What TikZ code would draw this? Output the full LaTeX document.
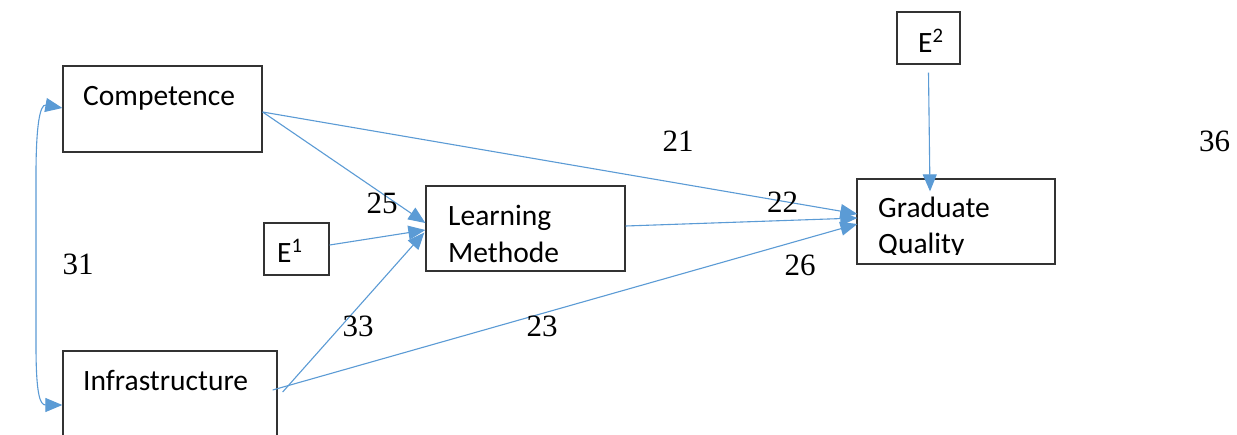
\documentclass[tikz,border=0pt]{standalone}
\usepackage{fontspec}
\setmainfont{Liberation Serif}
\newfontfamily\calfont{Carlito}
\usetikzlibrary{arrows.meta,calc}
\definecolor{lineblue}{HTML}{5B9BD5}
\definecolor{boxgray}{HTML}{333333}
\begin{document}
\begin{tikzpicture}[x=1pt,y=-1pt,
  box/.style={draw=boxgray,line width=1.3pt,rectangle,inner sep=0pt},
  boxtext/.style={anchor=base west,inner sep=0pt,font=\calfont\fontsize{29.5}{34}\selectfont},
  num/.style={inner sep=0pt,font=\fontsize{31}{36}\selectfont},
  conn/.style={draw=lineblue,line width=1.1pt,-{Triangle[length=17pt,width=14pt]}},
  biconn/.style={draw=lineblue,line width=1.1pt,{Triangle[length=17pt,width=14pt]}-{Triangle[length=17pt,width=14pt]}}]
\clip (0,0) rectangle (1237,434);
\fill[white] (0,0) rectangle (1237,434);
% boxes
\node[box,minimum width=199pt,minimum height=86pt] (comp) at (162.5,109) {};
\node[box,minimum width=214pt,minimum height=118pt] (infra) at (170,410) {};
\node[box,minimum width=65pt,minimum height=52pt] (e1) at (296.5,249) {};
\node[box,minimum width=199pt,minimum height=85pt] (lm) at (525.5,228.5) {};
\node[box,minimum width=63pt,minimum height=52pt] (e2) at (928.5,38) {};
\node[box,minimum width=198pt,minimum height=85pt] (gq) at (956,221.5) {};
% box texts
\node[boxtext] (tcomp) at (83,105) {Competence};
\node[boxtext] (tinfra) at (83,390) {Infrastructure};
\node[boxtext] (te1) at (277,262) {E\textsuperscript{1}};
\node[boxtext] (tlm1) at (448,225) {Learning};
\node[boxtext] (tlm2) at (448,262) {Methode};
\node[boxtext] (te2) at (918,52) {E\textsuperscript{2}};
\node[boxtext] (tgq1) at (878,217) {Graduate};
\begin{scope}
\clip (858,225) rectangle (1054,254);
\node[boxtext] (tgq2) at (878,253) {Quality};
\end{scope}
% connectors
\draw[conn] ($(comp.east)+(0,3)$) -- ($(gq.west)+(1,-7.5)$);
\draw[conn] ($(comp.east)+(0,3)$) -- ($(lm.west)+(0,-5.5)$);
\draw[conn] ($(e1.east)+(0,-4)$) -- ($(lm.west)+(0,1.5)$);
\draw[conn] ($(infra.east)+(5,-18)$) -- ($(lm.west)+(-1,4)$);
\draw[conn] ($(infra.east)+(-5,-20)$) -- ($(gq.west)+(1,2.5)$);
\draw[conn] ($(lm.east)+(0,-2.5)$) -- ($(gq.west)+(1,-3.5)$);
\draw[conn] ($(e2.south)+(0,8)$) -- ($(gq.north)+(-26,13)$);
\draw[biconn] ($(comp.west)+(0,-1)$) .. controls (40,104) and (36,125) .. (36,175)
  -- (36,345) .. controls (36,395) and (40,405) .. ($(infra.west)+(0,-5)$);
% labels
\node[num] (l21) at (678,141.5) {21};
\node[num] (l36) at (1214.5,141) {36};
\node[num] (l25) at (382,203) {25};
\node[num] (l22) at (782.5,202.5) {22};
\node[num] (l31) at (78,264) {31};
\node[num] (l26) at (800,265) {26};
\node[num] (l33) at (358,326) {33};
\node[num] (l23) at (542,326) {23};
\end{tikzpicture}
\end{document}
